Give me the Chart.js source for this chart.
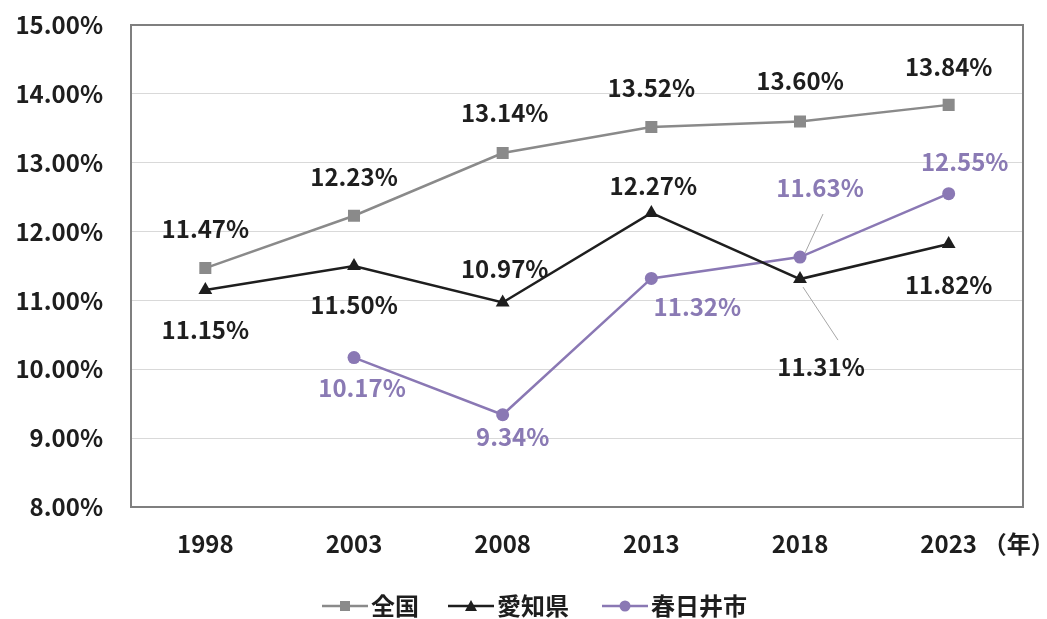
<!DOCTYPE html>
<html><head><meta charset="utf-8">
<script src="https://cdn.jsdelivr.net/npm/chart.js@4.4.1/dist/chart.umd.min.js"></script>
<style>html,body{margin:0;padding:0;background:#fff}#wrap{width:1047px;height:619px}</style>
</head><body><div id="wrap"><canvas id="c" width="1047" height="619"></canvas></div>
<script>
const categories = ['1998','2003','2008','2013','2018','2023'];
const zenkoku = [11.47, 12.23, 13.14, 13.52, 13.60, 13.84];
const aichi = [11.15, 11.50, 10.97, 12.27, 11.31, 11.82];
const kasugai = [null, 10.17, 9.34, 11.32, 11.63, 12.55];
const yTicks = [8, 9, 10, 11, 12, 13, 14, 15];
const seriesNames = ['全国', '愛知県', '春日井市'];

const FONT = '"Noto Sans CJK JP", "Noto Sans", sans-serif';
const FW = 'bold';
const FS = 24;
const colors = ['#8a8a8a', '#1e1e1e', '#8a78b4'];
const labelColors = ['#1e1e1e', '#1e1e1e', '#8a7ab4'];
// label offsets (dx, dy) from each point, in px
const labelOff = [
  [[0,-39],[0,-39],[2,-40],[0,-39],[0,-41],[0,-38]],
  [[0,40],[0,39],[2,-34],[2,-27],[21,88],[0,41]],
  [null,[8,30],[10,22],[46,28],[20,-69],[16,-32]]
];
const leaders = {'1-4':[[3,8],[38,61]], '2-4':[[5,-4],[23,-43]]};

const boxPlugin = {
  id:'box',
  beforeDatasetsDraw(chart){
    const {ctx, chartArea:a} = chart;
    ctx.save();
    ctx.strokeStyle = '#7f7f7f'; ctx.lineWidth = 2;
    ctx.strokeRect(a.left, a.top, a.right-a.left, a.bottom-a.top);
    ctx.restore();
    ctx.save();
    ctx.strokeStyle = '#a6a6a6'; ctx.lineWidth = 1;
    Object.keys(leaders).forEach(k=>{
      const [d,i] = k.split('-').map(Number);
      const p = chart.getDatasetMeta(d).data[i];
      const [s,e] = leaders[k];
      ctx.beginPath(); ctx.moveTo(p.x+s[0], p.y+s[1]); ctx.lineTo(p.x+e[0], p.y+e[1]); ctx.stroke();
    });
    ctx.restore();
  },
  afterDatasetsDraw(chart){
    const {ctx} = chart;
    ctx.save();
    ctx.font = FW + ' ' + FS + 'px ' + FONT;
    ctx.textAlign = 'center'; ctx.textBaseline = 'middle';
    chart.data.datasets.forEach((ds, d)=>{
      const meta = chart.getDatasetMeta(d);
      ds.data.forEach((v,i)=>{
        if (v == null) return;
        const p = meta.data[i];
        const o = labelOff[d][i];
        ctx.fillStyle = labelColors[d];
        ctx.fillText(v.toFixed(2) + '%', p.x + o[0], p.y + o[1]);
      });
    });
    const xs = chart.scales.x;
    ctx.fillStyle = '#1e1e1e';
    ctx.textAlign = 'left';
    ctx.fillText('（年）', xs.getPixelForValue(5) + 34, 544);
    const items = [{x:322},{x:448},{x:602}];
    const ly = 606;
    items.forEach((it, d)=>{
      ctx.strokeStyle = colors[d]; ctx.lineWidth = 2.5;
      ctx.beginPath(); ctx.moveTo(it.x, ly); ctx.lineTo(it.x+46, ly); ctx.stroke();
      ctx.fillStyle = colors[d];
      const cx = it.x + 23;
      if (d===0){ ctx.fillRect(cx-5, ly-5, 10, 10); }
      else if (d===1){ ctx.beginPath(); ctx.moveTo(cx, ly-6); ctx.lineTo(cx+6, ly+5); ctx.lineTo(cx-6, ly+5); ctx.closePath(); ctx.fill(); }
      else { ctx.beginPath(); ctx.arc(cx, ly, 5.5, 0, Math.PI*2); ctx.fill(); }
      ctx.fillStyle = '#1e1e1e';
      ctx.textAlign = 'left';
      ctx.fillText(seriesNames[d], it.x + 49, ly);
    });
    ctx.restore();
  }
};

const pointStyles = ['rect','triangle','circle'];
const radii = [8.5, 8, 6.5];
new Chart(document.getElementById('c'), {
  type:'line',
  data:{
    labels: categories,
    datasets: [zenkoku, aichi, kasugai].map((arr, d)=>({
      label: seriesNames[d], data: arr,
      borderColor: colors[d], backgroundColor: colors[d],
      borderWidth: 2.5, pointStyle: pointStyles[d], pointRadius: radii[d],
      pointBorderWidth: 0, pointBackgroundColor: colors[d], tension: 0, spanGaps: false
    }))
  },
  options:{
    responsive:false, animation:false, devicePixelRatio:1,
    layout:{padding:{left:0, top:25, right:24, bottom:52}},
    plugins:{legend:{display:false}, tooltip:{enabled:false}},
    scales:{
      x:{
        offset:true,
        grid:{display:false, drawTicks:false, offset:true},
        border:{display:false},
        ticks:{font:{family:FONT, size:FS, weight:FW}, color:'#1e1e1e', padding:22},
        afterFit(s){ s.height = 60; }
      },
      y:{
        min:8, max:15,
        afterBuildTicks(s){ s.ticks = yTicks.map(v=>({value:v})); },
        grid:{color:'#d9d9d9', lineWidth:1, drawTicks:true, tickLength:28, tickColor:'rgba(0,0,0,0)'},
        border:{display:false},
        ticks:{font:{family:FONT, size:FS, weight:FW}, color:'#1e1e1e', padding:0,
          callback:v=>v.toFixed(2)+'%'},
        afterFit(s){ s.width = 131; }
      }
    }
  },
  plugins:[boxPlugin]
});
</script></body></html>
